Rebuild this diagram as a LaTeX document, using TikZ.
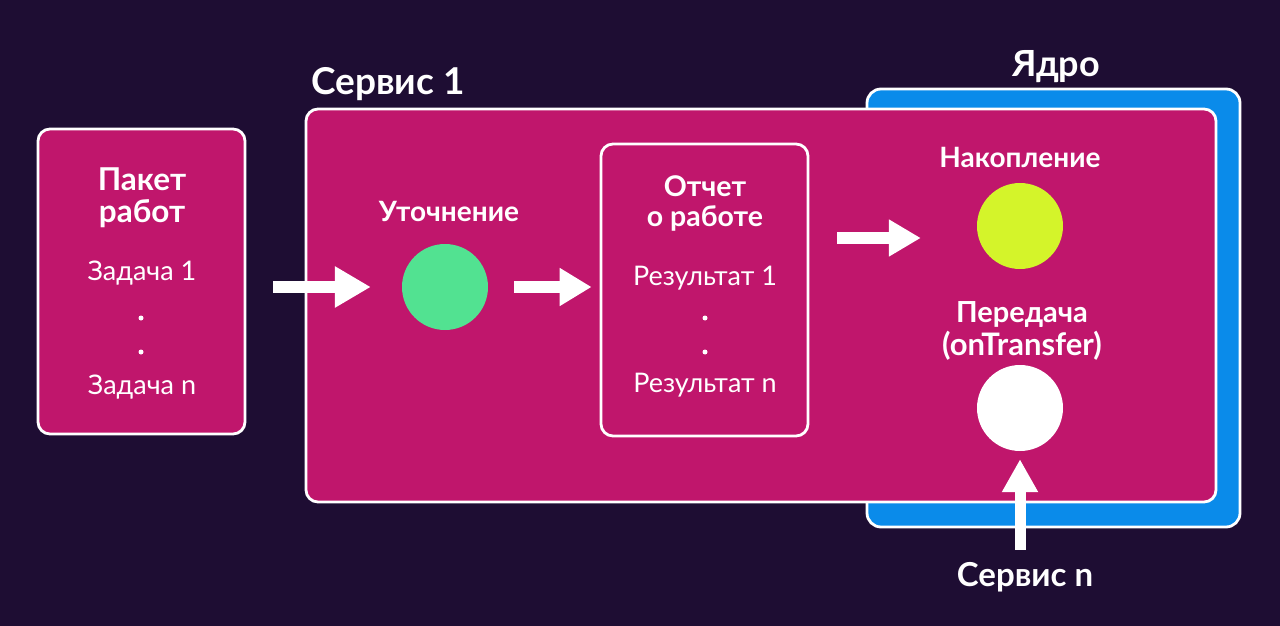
\documentclass[tikz,border=0pt]{standalone}
\usepackage{fontspec}
\setmainfont{Lato}
\usetikzlibrary{arrows.meta}
\definecolor{bg}{HTML}{1E0D33}
\definecolor{mag}{HTML}{C0166C}
\definecolor{core}{HTML}{0A8BEA}
\definecolor{grn}{HTML}{52E291}
\definecolor{ylw}{HTML}{D4F42A}
\begin{document}
\begin{tikzpicture}[x=1pt,y=-1pt,
  panel/.style={draw=white, line width=2.8pt, fill=mag, rounded corners=12pt, inner sep=0pt},
  dot/.style={circle, minimum size=86pt, inner sep=0pt},
  ttl/.style={text=white, font=\bfseries\fontsize{31.5}{34}\selectfont, align=center, inner sep=0pt},
  lbl/.style={text=white, font=\bfseries\fontsize{28}{30}\selectfont, align=center, inner sep=0pt},
  itm/.style={text=white, font=\fontsize{27}{30}\selectfont, inner sep=0pt},
  vd/.style={circle, fill=white, minimum size=5pt, inner sep=0pt},
  fat/.style={draw=white, line width=12pt}
]
\fill[bg] (0,0) rectangle (1280,626);
\useasboundingbox (0,0) rectangle (1280,626);

% containers
\node[panel, fill=core, rounded corners=14pt, minimum width=373pt, minimum height=438pt] (core) at (1053.5,308) {};
\node[panel, minimum width=910pt, minimum height=393pt] (svc) at (761,305.5) {};
\node[panel, minimum width=207pt, minimum height=305pt] (pkt) at (141.5,281.5) {};
\node[panel, minimum width=207pt, minimum height=292pt] (otc) at (704.5,290) {};

% titles
\node[ttl, font=\bfseries\fontsize{37}{40}\selectfont] (svc1) at (388,84) {Сервис 1};
\node[ttl, font=\bfseries\fontsize{36}{40}\selectfont] (yadro) at (1056,67) {Ядро};
\node[ttl, font=\bfseries\fontsize{33}{36}\selectfont] (svcn) at (1025,577) {Сервис n};

% package box
\node[ttl] (pkt1) at (142,179) {Пакет};
\node[ttl] (pkt2) at (142,214) {работ};
\node[itm] (z1) at (142,273) {Задача 1};
\node[vd] (pd1) at (141,318) {};
\node[vd] (pd2) at (141,352) {};
\node[itm] (zn) at (142,387) {Задача n};

% refinement
\node[lbl] (uto) at (449,211) {Уточнение};
\node[dot, fill=grn] (g) at (445,287) {};

% report box
\node[ttl, font=\bfseries\fontsize{28.5}{30}\selectfont] (ot1) at (705,186) {Отчет};
\node[ttl, font=\bfseries\fontsize{28.5}{30}\selectfont] (ot2) at (705,218) {о работе};
\node[itm] (r1) at (705,278) {Результат 1};
\node[vd] (rd1) at (705,318) {};
\node[vd] (rd2) at (705,352) {};
\node[itm] (rn) at (705,385) {Результат n};

% core items
\node[lbl] (nak) at (1020,157) {Накопление};
\node[dot, fill=ylw] (y) at (1020,226) {};
\node[lbl, font=\bfseries\fontsize{29}{30}\selectfont] (per1) at (1022,315) {Передача};
\node[lbl, font=\bfseries\fontsize{31}{30}\selectfont] (per2) at (1022,346) {(onTransfer)};
\node[dot, fill=white] (w) at (1020,408) {};

% arrows
\coordinate (a3) at (0,238);
\draw[fat, -{Triangle[length=36pt,width=39pt]}, shorten <=27pt, shorten >=31pt] (pkt.east |- g) -- (g.west);
\draw[fat, -{Triangle[length=32pt,width=36pt]}, shorten <=26pt, shorten >=8pt] (g.east) -- (otc.west |- g);
\draw[fat, -{Triangle[length=32pt,width=35pt]}, shorten <=28pt, shorten >=56pt] (otc.east |- a3) -- (y.west |- a3);
\draw[fat, line width=11pt, -{Triangle[length=33pt,width=34pt]}, shorten <=12pt, shorten >=8pt] (svcn.north -| w) -- (w.south);
\end{tikzpicture}
\end{document}
